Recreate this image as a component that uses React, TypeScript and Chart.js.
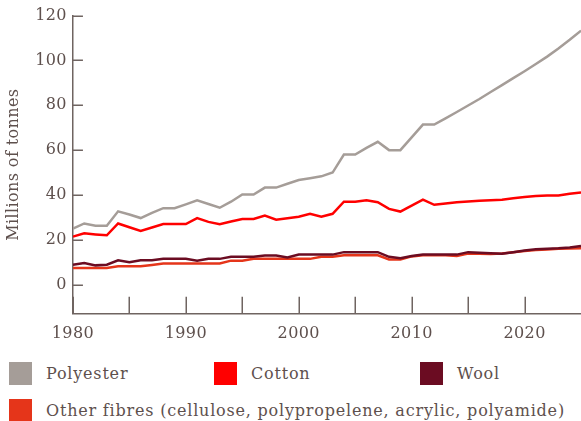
import React, { useEffect, useRef } from 'react';
import { Chart, registerables } from 'chart.js';

Chart.register(...registerables);

const years = [
  1980, 1981, 1982, 1983, 1984, 1985, 1986, 1987, 1988, 1989,
  1990, 1991, 1992, 1993, 1994, 1995, 1996, 1997, 1998, 1999,
  2000, 2001, 2002, 2003, 2004, 2005, 2006, 2007, 2008, 2009,
  2010, 2011, 2012, 2013, 2014, 2015, 2016, 2017, 2018, 2019,
  2020, 2021, 2022, 2023, 2024, 2025,
];

const polyester = [
  25.0, 27.3, 26.3, 26.3, 32.7, 31.3, 29.7, 32.0, 34.1, 34.1,
  35.8, 37.6, 36.0, 34.3, 37.0, 40.2, 40.2, 43.3, 43.3, 45.0,
  46.7, 47.5, 48.3, 50.0, 58.0, 58.0, 61.0, 63.7, 60.0, 60.0,
  65.7, 71.4, 71.4, 74.2, 77.0, 79.9, 82.8, 85.9, 89.0, 92.1,
  95.2, 98.4, 101.7, 105.3, 109.2, 113.3,
];

const cotton = [
  21.4, 22.9, 22.4, 22.0, 27.3, 25.6, 24.0, 25.5, 27.0, 27.0,
  27.0, 29.7, 28.0, 27.0, 28.2, 29.3, 29.3, 30.8, 29.0, 29.6,
  30.3, 31.6, 30.3, 31.6, 37.0, 37.0, 37.6, 36.8, 33.8, 32.6,
  35.2, 37.9, 35.6, 36.2, 36.8, 37.1, 37.4, 37.6, 37.9, 38.5,
  39.1, 39.5, 39.8, 39.8, 40.5, 41.1,
];

const wool = [
  8.9, 9.7, 8.6, 8.9, 10.9, 10.0, 10.9, 10.9, 11.5, 11.5,
  11.5, 10.7, 11.5, 11.5, 12.4, 12.4, 12.4, 13.0, 13.0, 12.1,
  13.4, 13.4, 13.4, 13.4, 14.5, 14.5, 14.5, 14.5, 12.4, 11.8,
  12.8, 13.4, 13.4, 13.4, 13.4, 14.5, 14.2, 14.0, 13.8, 14.5,
  15.2, 15.8, 16.0, 16.2, 16.6, 17.2,
];

const otherFibres = [
  7.4, 7.4, 7.4, 7.4, 8.2, 8.2, 8.2, 8.8, 9.4, 9.4,
  9.4, 9.4, 9.4, 9.4, 10.7, 10.7, 11.5, 11.5, 11.5, 11.5,
  11.5, 11.5, 12.4, 12.4, 13.1, 13.1, 13.1, 13.1, 11.2, 11.2,
  12.6, 13.1, 13.1, 13.1, 12.8, 13.9, 13.8, 13.7, 13.9, 14.5,
  15.0, 15.4, 15.7, 16.0, 16.1, 16.2,
];

const seriesNames = [
  'Polyester',
  'Cotton',
  'Wool',
  'Other fibres (cellulose, polypropelene, acrylic, polyamide)',
];
const seriesValues = [polyester, cotton, wool, otherFibres];
const seriesColors = ['#a59d98', '#ff0000', '#6b0c22', '#e5351a'];

const yTickValues = [0, 20, 40, 60, 80, 100, 120];
const xTickValues = [1980, 1985, 1990, 1995, 2000, 2005, 2010, 2015, 2020];
const yAxisTitle = 'Millions of tonnes';

const FONT = '"DejaVu Serif", serif';
const TEXT = '#5e504d';
const AXIS = '#6f6461';

const canvasSpacing = {
  id: 'canvasSpacing',
  beforeLayout(chart: any) {
    chart.ctx.letterSpacing = '0.4px';
  },
  beforeDraw(chart: any) {
    chart.ctx.letterSpacing = '0.4px';
  },
};

const innerTicks = {
  id: 'innerTicks',
  beforeDatasetsDraw(chart: any) {
    const { ctx, chartArea, scales } = chart;
    const xs = scales.x;
    const ys = scales.y;
    ctx.save();
    ctx.strokeStyle = AXIS;
    ctx.lineWidth = 1.5;
    ctx.beginPath();
    xs.ticks.forEach((t: any) => {
      const px = Math.round(xs.getPixelForValue(t.value)) + 0.25;
      ctx.moveTo(px, chartArea.bottom);
      ctx.lineTo(px, chartArea.bottom - 17);
    });
    ys.ticks.forEach((t: any) => {
      const py = Math.round(ys.getPixelForValue(t.value)) + 0.25;
      ctx.moveTo(chartArea.left, py);
      ctx.lineTo(chartArea.left + 10, py);
    });
    ctx.stroke();
    ctx.restore();
  },
};

export default function App() {
  const canvasRef = useRef<HTMLCanvasElement | null>(null);

  useEffect(() => {
    if (!canvasRef.current) return;
    const chart = new Chart(canvasRef.current, {
      type: 'line',
      data: {
        datasets: seriesNames.map((name, i) => ({
          label: name,
          data: years.map((yr, j) => ({ x: yr, y: seriesValues[i][j] })),
          borderColor: seriesColors[i],
          backgroundColor: seriesColors[i],
          borderWidth: 2.5,
          pointRadius: 0,
          tension: 0,
          fill: false,
        })),
      },
      options: {
        animation: false,
        responsive: false,
        maintainAspectRatio: false,
        layout: { padding: { top: 13, left: 0, right: 0, bottom: 4 } },
        plugins: {
          legend: { display: false },
          tooltip: { enabled: false },
        },
        scales: {
          x: {
            type: 'linear',
            min: 1980,
            max: 2025,
            afterBuildTicks: (s: any) => {
              s.ticks = xTickValues.map((v) => ({ value: v }));
            },
            border: { display: true, color: AXIS, width: 1.5 },
            grid: { drawOnChartArea: false, drawTicks: false },
            ticks: {
              padding: 10,
              color: TEXT,
              autoSkip: false,
              maxRotation: 0,
              font: { family: FONT, size: 16 },
              callback: (v: any) => (Number(v) % 10 === 0 ? String(v) : ''),
            },
          },
          y: {
            min: -13,
            max: 120,
            afterBuildTicks: (s: any) => {
              s.ticks = yTickValues.map((v) => ({ value: v }));
            },
            border: { display: true, color: AXIS, width: 1.5 },
            grid: { drawOnChartArea: false, drawTicks: false },
            ticks: {
              padding: 6,
              color: TEXT,
              font: { family: FONT, size: 16 },
            },
            title: {
              display: true,
              text: yAxisTitle,
              color: TEXT,
              font: { family: FONT, size: 16 },
              padding: { top: 4, bottom: 6 },
            },
          },
        },
      },
      plugins: [canvasSpacing, innerTicks],
    });
    return () => chart.destroy();
  }, []);

  return (
    <div style={{ position: 'absolute', left: 0, top: 0, width: 581, height: 421, background: '#fff', overflow: 'hidden' }}>
      <canvas ref={canvasRef} width={581} height={357} style={{ position: 'absolute', left: 0, top: 0 }} />
      <div
        style={{
          position: 'absolute',
          left: 9,
          top: 362,
          width: 572,
          display: 'grid',
          gridTemplateColumns: '205px 206px 161px',
          rowGap: 14,
          fontFamily: FONT,
          fontSize: 16,
          letterSpacing: '0.8px',
          color: TEXT,
        }}
      >
        {seriesNames.map((name, i) => (
          <div
            key={name}
            style={{
              display: 'flex',
              alignItems: 'center',
              height: 23,
              whiteSpace: 'nowrap',
              gridColumn: i === 3 ? '1 / span 3' : undefined,
            }}
          >
            <span style={{ display: 'inline-block', width: 23, height: 23, background: seriesColors[i], marginRight: 14, flex: 'none' }} />
            <span>{name}</span>
          </div>
        ))}
      </div>
    </div>
  );
}
